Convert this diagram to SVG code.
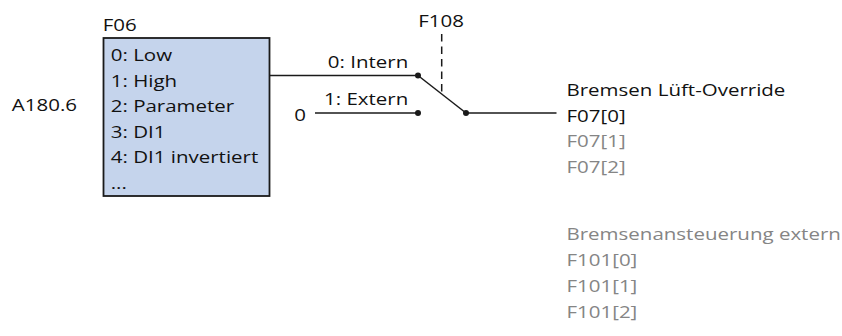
<svg xmlns="http://www.w3.org/2000/svg" width="842" height="336" viewBox="0 0 842 336">
<style>
text{font-family:"Open Sans","Noto Sans",sans-serif;font-size:16.4px;fill:#111111}
.g{fill:#858585}
.ln{stroke:#1a1a1a;stroke-width:1.5;fill:none}
.dot{fill:#1a1a1a}
</style>
<rect width="842" height="336" fill="#ffffff"/>
<g id="label-a1806" transform="scale(1.25 1)"><text x="9.5" y="111.5">A180.6</text></g>
<g id="node-f06">
<rect x="103.5" y="38" width="166" height="158" fill="#c5d4ec" stroke="#1a1a1a" stroke-width="1.8"/>
<g transform="scale(1.25 1)">
<text x="82.2" y="31.5">F06</text>
<text x="88.6" y="61.5">0: Low</text>
<text x="88.6" y="87">1: High</text>
<text x="88.6" y="112.5">2: Parameter</text>
<text x="88.6" y="138">3: DI1</text>
<text x="88.6" y="163.5">4: DI1 invertiert</text>
<text x="88.6" y="189">...</text>
</g>
</g>
<g id="node-switch">
<g transform="scale(1.25 1)">
<text x="352.8" y="27" text-anchor="middle">F108</text>
<text x="326.6" y="67.7" text-anchor="end">0: Intern</text>
<text x="326.6" y="105" text-anchor="end">1: Extern</text>
<text x="235.4" y="121">0</text>
</g>
<circle class="dot" cx="418" cy="75.5" r="3"/>
<circle class="dot" cx="418" cy="113" r="3"/>
<circle class="dot" cx="466" cy="113" r="3"/>
</g>
<g id="connectors">
<line class="ln" x1="269.5" y1="75.5" x2="418" y2="75.5"/>
<line class="ln" x1="315" y1="113" x2="418" y2="113"/>
<line class="ln" x1="418" y1="75.5" x2="466" y2="113"/>
<line class="ln" x1="466" y1="113" x2="556.5" y2="113"/>
<line class="ln" x1="441.7" y1="34" x2="441.7" y2="93" stroke-dasharray="7.5,5" stroke-width="2.2"/>
</g>
<g id="node-output" transform="scale(1.25 1)">
<text x="453.2" y="95.7">Bremsen Lüft-Override</text>
<text x="453.2" y="122">F07[0]</text>
<text class="g" x="453.2" y="147.5">F07[1]</text>
<text class="g" x="453.2" y="173">F07[2]</text>
</g>
<g id="node-extern" transform="scale(1.25 1)">
<text class="g" x="453.2" y="240.5">Bremsenansteuerung extern</text>
<text class="g" x="453.2" y="266.5">F101[0]</text>
<text class="g" x="453.2" y="292.3">F101[1]</text>
<text class="g" x="453.2" y="318">F101[2]</text>
</g>
</svg>
